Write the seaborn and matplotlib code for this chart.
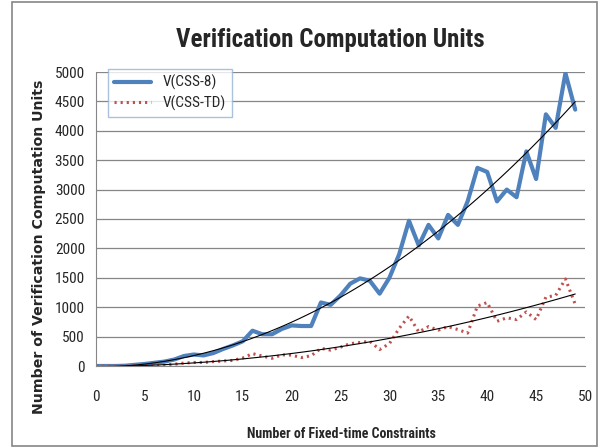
import numpy as np
import pandas as pd
import seaborn as sns
import matplotlib.pyplot as plt
from matplotlib.patches import Rectangle

# data
n_constraints = list(range(50))
css8 = [0, 0, 0, 5, 20, 35, 55, 75, 110, 170,
        195, 180, 220, 290, 350, 420, 600, 540, 540, 630,
        690, 680, 680, 1080, 1040, 1200, 1400, 1490, 1450, 1230,
        1500, 1900, 2470, 2050, 2400, 2170, 2570, 2400, 2800, 3370,
        3300, 2800, 3000, 2870, 3650, 3180, 4280, 4050, 4980, 4360]
csstd = [0, 0, 0, 0, 5, 5, 10, 15, 30, 50,
         60, 60, 75, 85, 95, 135, 211, 170, 131, 190,
         185, 143, 175, 300, 270, 320, 380, 400, 420, 280,
         380, 640, 850, 580, 670, 610, 670, 620, 560, 1020,
         1080, 760, 820, 790, 920, 790, 1170, 1200, 1480, 1050]
series_names = ["V(CSS-8)", "V(CSS-TD)"]

sns.set_style("white")
narrow = ['Roboto Condensed', 'Open Sans Condensed', 'Roboto', 'DejaVu Sans']
plt.rcParams['font.family'] = narrow

W, H = 605, 447
fig = plt.figure(figsize=(W / 100, H / 100), dpi=100)
ax = fig.add_axes([96 / W, 1 - 366 / H, (585 - 96) / W, (366 - 72) / H])

gray = "#868686"
sns.lineplot(x=n_constraints, y=css8, ax=ax, color="#4F81BD", lw=3.0,
             solid_joinstyle="round", label=series_names[0])
sns.lineplot(x=n_constraints, y=csstd, ax=ax, color="#C0504D", lw=2.2,
             linestyle=(0, (0.7, 1.3)), label=series_names[1])
# polynomial trend lines
sns.regplot(x=n_constraints, y=css8, order=2, ci=None, scatter=False, ax=ax,
            line_kws=dict(color="black", lw=0.8))
sns.regplot(x=n_constraints, y=csstd, order=2, ci=None, scatter=False, ax=ax,
            line_kws=dict(color="black", lw=0.8))

ax.set_xlim(0, 50)
ax.set_ylim(0, 5000)
ax.set_xticks(range(0, 51, 5))
ax.set_yticks(range(0, 5001, 500))
ax.set_xlabel("")
ax.set_ylabel("")
ax.yaxis.grid(True, color=gray, lw=0.9)
ax.xaxis.grid(False)
ax.set_axisbelow(True)
for s in ["top", "right"]:
    ax.spines[s].set_visible(False)
for s in ["left", "bottom"]:
    ax.spines[s].set_color(gray)
ax.tick_params(axis="both", length=0, labelsize=11)
ax.tick_params(axis="x", pad=17)
ax.tick_params(axis="y", pad=8)

handles = ax.get_lines()[:2]
leg = ax.legend(handles, series_names, loc="upper left",
                bbox_to_anchor=(108 / W, 1 - 69 / H), bbox_transform=fig.transFigure,
                borderaxespad=0, fontsize=11, handlelength=2.4, frameon=True,
                fancybox=False, edgecolor="#95B3D7", labelspacing=0.35)
leg.get_frame().set_linewidth(1.0)

fig.text(330 / W, 1 - 47 / H, "Verification Computation Units", ha="center",
         va="baseline", fontsize=18, fontweight="bold")
fig.text(341 / W, 1 - 438 / H, "Number of Fixed-time Constraints", ha="center",
         va="baseline", fontsize=10, fontweight="bold")
fig.text(39 / W, 1 - 247 / H, "Number of Verification Computation Units", ha="center",
         va="center", rotation=90, fontsize=10.2, fontweight="bold", family="DejaVu Sans")

fig.add_artist(Rectangle((12 / W, 1 / H), 585 / W, 444 / H, transform=fig.transFigure,
                         fill=False, ec=gray, lw=1.2))

fig.savefig("out.png", dpi=100)
